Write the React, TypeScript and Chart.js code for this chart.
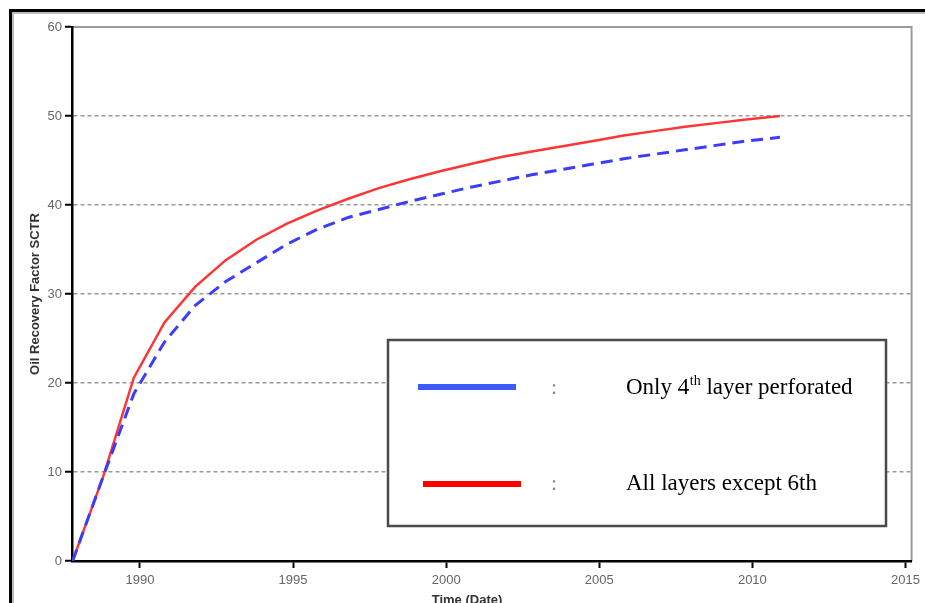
import React, { useEffect, useRef } from "react";
import { Chart, registerables } from "chart.js";

Chart.register(...registerables);

// ---- data ----
const years = [
  1987.8, 1988.8, 1989.8, 1990.8, 1991.8, 1992.8, 1993.8, 1994.8, 1995.8, 1996.8, 1997.8, 1998.8,
  1999.8, 2000.8, 2001.8, 2002.8, 2003.8, 2004.8, 2005.8, 2006.8, 2007.8, 2008.8, 2009.8, 2010.9,
];
const only4thLayer = [
  0, 9.5, 18.8, 24.6, 28.7, 31.4, 33.5, 35.6, 37.3, 38.6, 39.5, 40.4,
  41.2, 42.0, 42.7, 43.4, 44.0, 44.6, 45.2, 45.7, 46.2, 46.7, 47.2, 47.6,
];
const allExcept6th = [
  0, 9.5, 20.6, 26.8, 30.8, 33.8, 36.1, 37.9, 39.4, 40.7, 41.9, 42.9,
  43.8, 44.6, 45.4, 46.0, 46.6, 47.2, 47.8, 48.3, 48.8, 49.2, 49.6, 50.0,
];
const xTicks = [1990, 1995, 2000, 2005, 2010, 2015];
const yTicks = [0, 10, 20, 30, 40, 50, 60];
const xTitle = "Time (Date)";
const yTitle = "Oil Recovery Factor SCTR";
const legendBlue = ["Only 4", "th", " layer perforated"];
const legendRed = "All layers except 6th";

const SANS = "'Liberation Sans', Arial, sans-serif";
const SERIF = "'Liberation Serif', 'Times New Roman', serif";

const decorPlugin = {
  id: "decor",
  beforeDraw(chart: any) {
    const { ctx, chartArea: a } = chart;
    ctx.save();
    ctx.fillStyle = "#fff";
    ctx.fillRect(0, 0, chart.width, chart.height);
    // outer frame (only top & left visible)
    ctx.strokeStyle = "#bdbdbd";
    ctx.lineWidth = 2;
    ctx.beginPath();
    ctx.moveTo(13, chart.height);
    ctx.lineTo(13, 13);
    ctx.lineTo(chart.width, 13);
    ctx.stroke();
    ctx.strokeStyle = "#000";
    ctx.lineWidth = 3;
    ctx.beginPath();
    ctx.moveTo(10.5, chart.height);
    ctx.lineTo(10.5, 10.5);
    ctx.lineTo(chart.width, 10.5);
    ctx.stroke();
    // plot frame top & right
    ctx.strokeStyle = "#9a9a9a";
    ctx.lineWidth = 2;
    ctx.beginPath();
    ctx.moveTo(a.left, a.top);
    ctx.lineTo(a.right, a.top);
    ctx.lineTo(a.right, a.bottom);
    ctx.stroke();
    ctx.restore();
  },
  afterDraw(chart: any) {
    const { ctx, chartArea: a } = chart;
    ctx.save();
    // axis titles
    ctx.fillStyle = "#333";
    ctx.font = `bold 13px ${SANS}`;
    ctx.textAlign = "center";
    ctx.textBaseline = "alphabetic";
    ctx.fillText(xTitle, 467, 604);
    ctx.save();
    ctx.translate(35.5, (a.top + a.bottom) / 2);
    ctx.rotate(-Math.PI / 2);
    ctx.textBaseline = "middle";
    ctx.fillText(yTitle, 0, 0);
    ctx.restore();

    // legend box
    const bx = 388, by = 340, bw = 498, bh = 186;
    ctx.fillStyle = "#fff";
    ctx.fillRect(bx, by, bw, bh);
    ctx.strokeStyle = "#4a4a4a";
    ctx.lineWidth = 2.5;
    ctx.strokeRect(bx, by, bw, bh);

    ctx.lineCap = "butt";
    ctx.lineWidth = 6;
    ctx.strokeStyle = "#3b5bff";
    ctx.beginPath();
    ctx.moveTo(418, 387);
    ctx.lineTo(516, 387);
    ctx.stroke();
    ctx.strokeStyle = "#ff0000";
    ctx.beginPath();
    ctx.moveTo(423, 484);
    ctx.lineTo(521, 484);
    ctx.stroke();

    ctx.textAlign = "left";
    ctx.textBaseline = "alphabetic";
    ctx.fillStyle = "#888";
    ctx.font = `22px ${SERIF}`;
    ctx.fillText(":", 551, 394);
    ctx.fillText(":", 551, 490);

    ctx.fillStyle = "#000";
    let x = 626;
    ctx.font = `23px ${SERIF}`;
    ctx.fillText(legendBlue[0], x, 394);
    x += ctx.measureText(legendBlue[0]).width;
    ctx.font = `14px ${SERIF}`;
    ctx.fillText(legendBlue[1], x + 0.5, 385);
    x += ctx.measureText(legendBlue[1]).width + 0.5;
    ctx.font = `23px ${SERIF}`;
    ctx.fillText(legendBlue[2], x, 394);
    ctx.fillText(legendRed, 626, 490);
    ctx.restore();
  },
};

export default function App() {
  const ref = useRef<HTMLCanvasElement>(null);
  useEffect(() => {
    if (!ref.current) return;
    const chart = new Chart(ref.current, {
      type: "line",
      data: {
        datasets: [
          {
            label: legendBlue.join(""),
            data: years.map((t, i) => ({ x: t, y: only4thLayer[i] })),
            borderColor: "#3c3cff",
            borderWidth: 3,
            borderDash: [12, 7],
            pointRadius: 0,
            tension: 0,
            fill: false,
            order: 0,
          },
          {
            label: legendRed,
            data: years.map((t, i) => ({ x: t, y: allExcept6th[i] })),
            borderColor: "#ff3535",
            borderWidth: 2.5,
            pointRadius: 0,
            tension: 0,
            fill: false,
            order: 1,
          },
        ],
      },
      options: {
        responsive: false,
        devicePixelRatio: 1,
        animation: false,
        events: [],
        layout: { padding: { top: 27, right: 12, left: 0, bottom: 0 } },
        plugins: { legend: { display: false }, tooltip: { enabled: false }, title: { display: false } },
        scales: {
          x: {
            type: "linear",
            min: 1987.78,
            max: 2015.2,
            afterBuildTicks: (s: any) => {
              s.ticks = xTicks.map((v) => ({ value: v }));
            },
            afterFit: (s: any) => {
              s.height = 42;
            },
            ticks: {
              color: "#666",
              font: { family: SANS, size: 13 },
              padding: 5,
              maxRotation: 0,
              autoSkip: false,
              callback: (v: any) => String(v),
            },
            grid: {
              drawOnChartArea: false,
              drawTicks: true,
              tickLength: 7,
              tickColor: "#000",
              tickWidth: 2,
            },
            border: { display: true, color: "#000", width: 2.5 },
          },
          y: {
            type: "linear",
            min: 0,
            max: 60,
            afterBuildTicks: (s: any) => {
              s.ticks = yTicks.map((v) => ({ value: v }));
            },
            afterFit: (s: any) => {
              s.width = 72;
            },
            ticks: {
              color: "#666",
              font: { family: SANS, size: 13 },
              padding: 3,
              callback: (v: any) => String(v),
            },
            grid: {
              color: (c: any) =>
                c.tick && (c.tick.value === 0 || c.tick.value === 60) ? "rgba(0,0,0,0)" : "#9a9a9a",
              lineWidth: 1.5,
              drawTicks: true,
              tickLength: 7,
              tickColor: "#000",
              tickWidth: 2,
              tickBorderDash: [],
            },
            border: { display: true, color: "#000", width: 2.5, dash: [4, 3] },
          },
        },
      },
      plugins: [decorPlugin],
    });
    return () => chart.destroy();
  }, []);
  return (
    <div style={{ position: "absolute", left: 0, top: 0, width: 925, height: 603 }}>
      <canvas ref={ref} width={925} height={603} />
    </div>
  );
}
